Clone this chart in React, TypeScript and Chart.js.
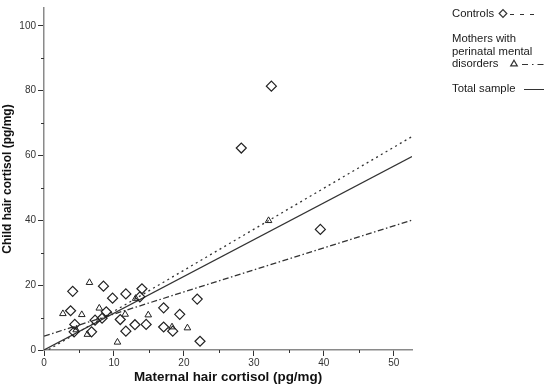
import React, { useEffect, useRef } from "react";
import { Chart, registerables } from "chart.js";

Chart.register(...registerables);

// ---- Data ----
const controlsX = [4.1, 3.8, 4.4, 4.3, 6.8, 8.5, 9.8, 8.9, 8.3, 7.3, 10.9, 11.7, 11.7, 13.0, 13.7, 14.0, 14.6, 17.1, 17.1, 18.4, 19.4, 21.9, 22.3, 28.2, 32.5, 39.5];
const controlsY = [18.1, 12.1, 7.9, 5.6, 5.6, 19.7, 16.0, 11.8, 9.8, 9.2, 9.4, 17.3, 5.8, 7.8, 16.4, 18.9, 7.9, 13.0, 7.1, 5.8, 11.0, 15.7, 2.7, 62.3, 81.4, 37.2];

const mothersX = [2.7, 5.4, 6.5, 7.9, 6.2, 4.6, 10.5, 11.6, 13.1, 14.9, 18.3, 20.5, 32.1];
const mothersY = [11.2, 10.9, 20.8, 12.9, 4.8, 6.2, 2.4, 11.0, 15.9, 10.8, 7.1, 6.8, 39.9];

// Fit lines: Controls, Mothers, Total sample
const fitNames = ["Controls", "Mothers with perinatal mental disorders", "Total sample"];
const fitIntercepts = [-0.7, 4.3, 0.0];
const fitSlopes = [1.265, 0.68, 1.135];

const xMajorTicks = [0, 10, 20, 30, 40, 50];
const xMinorTicks = [5, 15, 25, 35, 45];
const yMajorTicks = [0, 20, 40, 60, 80, 100];
const yMinorTicks = [10, 30, 50, 70, 90];

const xRange = [0, 52.6];
const yRange = [0, 105.5];

const xTitle = "Maternal hair cortisol (pg/mg)";
const yTitle = "Child hair cortisol (pg/mg)";

const FONT = "Arial, 'Liberation Sans', sans-serif";

const minorTicksPlugin = {
  id: "minorTicks",
  afterDraw(chart: any) {
    const ctx = chart.ctx;
    const xs = chart.scales.x;
    const ys = chart.scales.y;
    const area = chart.chartArea;
    ctx.save();
    ctx.strokeStyle = "#333";
    ctx.lineWidth = 1;
    ctx.beginPath();
    xMinorTicks.forEach((v) => {
      const px = Math.round(xs.getPixelForValue(v)) + 0.5;
      ctx.moveTo(px, area.bottom);
      ctx.lineTo(px, area.bottom + 3);
    });
    yMinorTicks.forEach((v) => {
      const py = Math.round(ys.getPixelForValue(v)) + 0.5;
      ctx.moveTo(area.left - 3, py);
      ctx.lineTo(area.left, py);
    });
    ctx.stroke();
    ctx.restore();
  },
};

const legendPlugin = {
  id: "customLegend",
  afterDraw(chart: any) {
    const ctx = chart.ctx;
    ctx.save();
    ctx.font = `11.3px ${FONT}`;
    ctx.fillStyle = "#1a1a1a";
    ctx.textBaseline = "middle";
    ctx.textAlign = "left";
    const tx = 452;
    ctx.fillText("Controls", tx, 14);
    ctx.fillText("Mothers with", tx, 39);
    ctx.fillText("perinatal mental", tx, 51.5);
    ctx.fillText("disorders", tx, 64);
    ctx.fillText("Total sample", tx, 89);

    ctx.strokeStyle = "#333";
    ctx.lineWidth = 1.2;
    // diamond
    const dx = 503, dy = 13.5, r = 3.8;
    ctx.beginPath();
    ctx.moveTo(dx - r, dy);
    ctx.lineTo(dx, dy - r);
    ctx.lineTo(dx + r, dy);
    ctx.lineTo(dx, dy + r);
    ctx.closePath();
    ctx.stroke();
    // triangle
    const trx = 514, trY = 64, tr = 3.8;
    ctx.beginPath();
    ctx.moveTo(trx, trY - tr);
    ctx.lineTo(trx + tr * 0.866, trY + tr * 0.5);
    ctx.lineTo(trx - tr * 0.866, trY + tr * 0.5);
    ctx.closePath();
    ctx.stroke();

    ctx.lineWidth = 1;
    ctx.setLineDash([4, 6]);
    ctx.beginPath();
    ctx.moveTo(510, 14.5);
    ctx.lineTo(536, 14.5);
    ctx.stroke();
    ctx.setLineDash([6, 4, 1.5, 4]);
    ctx.beginPath();
    ctx.moveTo(522, 64.5);
    ctx.lineTo(545, 64.5);
    ctx.stroke();
    ctx.setLineDash([]);
    ctx.beginPath();
    ctx.moveTo(524, 89.5);
    ctx.lineTo(544, 89.5);
    ctx.stroke();
    ctx.restore();
  },
};

export default function App() {
  const ref = useRef<HTMLCanvasElement | null>(null);

  useEffect(() => {
    if (!ref.current) return;
    const fitLine = (i: number) => [
      { x: xRange[0], y: fitIntercepts[i] + fitSlopes[i] * xRange[0] },
      { x: xRange[1], y: fitIntercepts[i] + fitSlopes[i] * xRange[1] },
    ];
    const lineStyles = [
      { dash: [2, 3.5], width: 1.3 },
      { dash: [6, 2.5, 1.5, 2.5], width: 1.3 },
      { dash: [], width: 1.2 },
    ];
    const chart = new Chart(ref.current, {
      type: "scatter",
      data: {
        datasets: [
          {
            label: "Controls",
            data: controlsX.map((x, i) => ({ x, y: controlsY[i] })),
            pointStyle: "rectRot",
            pointRadius: 5,
            borderColor: "#222",
            backgroundColor: "rgba(255,255,255,0)",
            borderWidth: 1.2,
          },
          {
            label: "Mothers with perinatal mental disorders",
            data: mothersX.map((x, i) => ({ x, y: mothersY[i] })),
            pointStyle: "triangle",
            pointRadius: 3.8,
            borderColor: "#222",
            backgroundColor: "rgba(255,255,255,0)",
            borderWidth: 1,
          },
          ...fitNames.map((name, i) => ({
            type: "line" as const,
            label: name + " fit",
            data: fitLine(i),
            borderColor: "#333",
            borderWidth: lineStyles[i].width,
            borderDash: lineStyles[i].dash,
            pointRadius: 0,
            fill: false,
            showLine: true,
          })),
        ],
      },
      options: {
        animation: false,
        responsive: false,
        layout: { padding: { top: 2, right: 138, left: 0, bottom: 0 } },
        plugins: {
          legend: { display: false },
          tooltip: { enabled: false },
        },
        scales: {
          x: {
            type: "linear",
            min: xRange[0],
            max: xRange[1],
            afterBuildTicks: (s: any) => {
              s.ticks = xMajorTicks.map((v) => ({ value: v }));
            },
            afterFit: (s: any) => {
              s.height = 38;
            },
            grid: {
              display: true,
              drawOnChartArea: false,
              tickLength: 6,
              tickColor: "#333",
              color: "#333",
            },
            border: { color: "#8a8a8a", width: 1.5 },
            ticks: {
              font: { family: FONT, size: 10 },
              color: "#333",
              padding: 1,
              maxRotation: 0,
            },
            title: {
              display: true,
              text: xTitle,
              font: { family: FONT, size: 13.4, weight: "bold" },
              color: "#111",
              padding: { top: 0, bottom: 3 },
            },
          },
          y: {
            type: "linear",
            min: yRange[0],
            max: yRange[1],
            afterBuildTicks: (s: any) => {
              s.ticks = yMajorTicks.map((v) => ({ value: v }));
            },
            afterFit: (s: any) => {
              s.width = 44;
            },
            grid: {
              display: true,
              drawOnChartArea: false,
              tickLength: 6,
              tickColor: "#333",
              color: "#333",
            },
            border: { color: "#8a8a8a", width: 1.5 },
            ticks: {
              font: { family: FONT, size: 10 },
              color: "#333",
              padding: 2,
            },
            title: {
              display: true,
              text: yTitle,
              font: { family: FONT, size: 12, weight: "bold" },
              color: "#111",
              padding: { top: 0, bottom: 0 },
            },
          },
        },
      },
      plugins: [minorTicksPlugin, legendPlugin],
    } as any);
    return () => chart.destroy();
  }, []);

  return (
    <div style={{ position: "absolute", left: 0, top: 0, width: 550, height: 388, background: "#fff" }}>
      <canvas ref={ref} width={550} height={388} style={{ display: "block" }} />
    </div>
  );
}
